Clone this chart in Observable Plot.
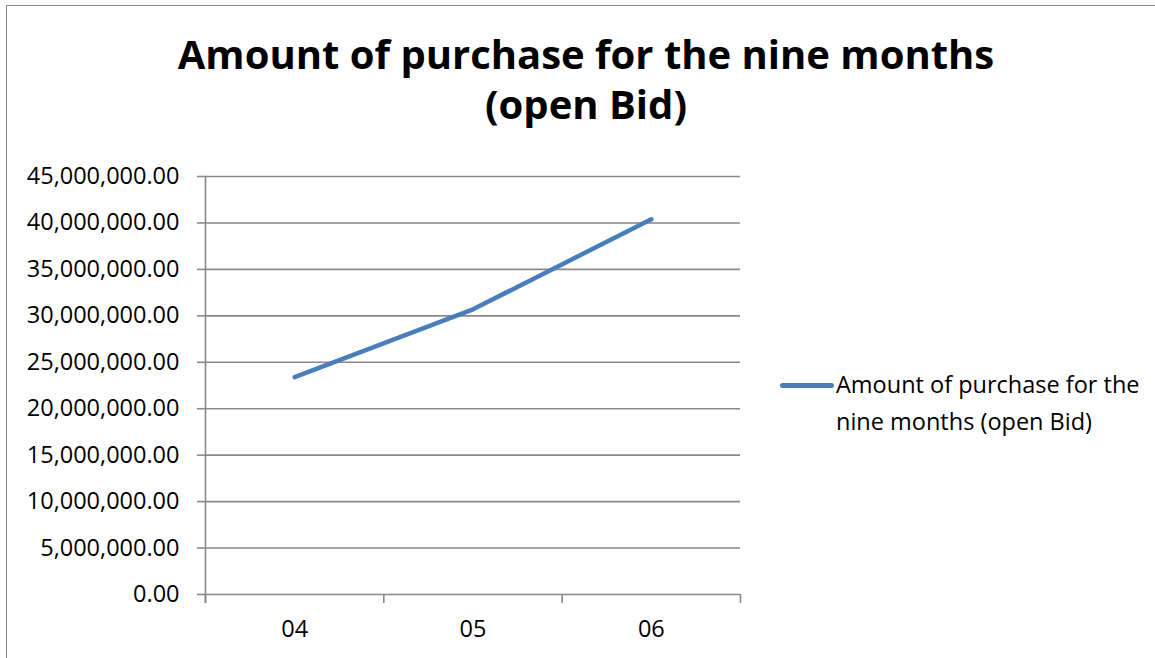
<!DOCTYPE html>
<html>
<head>
<meta charset="utf-8">
<script src="https://cdn.jsdelivr.net/npm/d3@7"></script>
<script src="https://cdn.jsdelivr.net/npm/@observablehq/plot@0.6"></script>
<style>
  html, body { margin: 0; padding: 0; background: #fff; }
  body { width: 1155px; height: 658px; position: relative; overflow: hidden; font-family: "Open Sans", sans-serif; color: #000; }
  #frame { position: absolute; left: 6px; top: 5px; width: 1200px; height: 700px; border: 1.5px solid #8a8a8a; box-sizing: border-box; }
  #title { position: absolute; left: 0; top: 29px; width: 1172px; text-align: center; font-weight: 700; font-size: 40px; line-height: 50px; }
  #chart { position: absolute; left: 0; top: 150px; }
  #legend { position: absolute; left: 780px; top: 366px; font-size: 23.5px; line-height: 37px; }
  #legend .swatch { position: absolute; left: 0; top: 17px; width: 54px; height: 4.5px; border-radius: 3px; background: #4a7ebb; }
  #legend .label { position: absolute; left: 56px; top: 0; white-space: nowrap; }
</style>
</head>
<body>
<div id="frame"></div>
<div id="title">Amount of purchase for the nine months<br>(open Bid)</div>
<div id="chart"></div>
<div id="legend"><div class="swatch"></div><div class="label">Amount of purchase for the<br>nine months (open Bid)</div></div>
<script>
// Monthly purchase amounts (open bid)
const months = ["04", "05", "06"];
const amounts = [23400000, 30700000, 40400000];
const seriesName = "Amount of purchase for the nine months (open Bid)";
const yTicks = [0, 5e6, 10e6, 15e6, 20e6, 25e6, 30e6, 35e6, 40e6, 45e6];

const data = months.map((m, i) => ({month: m, pos: i + 0.5, amount: amounts[i]}));
const boundaries = d3.range(months.length + 1);
const grid = "#898989";

const chart = Plot.plot({
  width: 760,
  height: 508,
  marginLeft: 205,
  marginRight: 20,
  marginTop: 26,
  marginBottom: 64,
  style: {fontFamily: "Open Sans, sans-serif", fontSize: "23.5px", color: "#000", background: "transparent", overflow: "visible"},
  x: {type: "linear", domain: [0, months.length], axis: null, label: null},
  y: {type: "linear", domain: [0, 45e6], axis: null, label: null},
  marks: [
    // horizontal gridlines
    Plot.ruleY(yTicks, {stroke: grid, strokeWidth: 1.6}),
    // vertical axis line, running just past the baseline
    Plot.ruleX([0], {stroke: grid, strokeWidth: 1.6, insetBottom: -9}),
    // category boundary ticks below the baseline
    Plot.axisX({ticks: boundaries, tickSize: 9, tickFormat: () => "", stroke: grid, strokeWidth: 1.6, label: null}),
    // category labels centred in each band
    Plot.axisX({ticks: data.map(d => d.pos), tickSize: 0, tickPadding: 26, tickFormat: d => months[Math.floor(d)], fontSize: 23.5, fill: "#000", label: null}),
    // value axis
    Plot.axisY({ticks: yTicks, tickSize: 8, tickPadding: 18, tickFormat: d3.format(",.2f"), stroke: grid, strokeWidth: 1.6, fontSize: 23.5, fill: "#000", label: null}),
    Plot.line(data, {x: "pos", y: "amount", stroke: "#4a7ebb", strokeWidth: 4.5, strokeLinecap: "round", strokeLinejoin: "round"})
  ]
});
chart.setAttribute("aria-label", seriesName);
document.getElementById("chart").append(chart);
</script>
</body>
</html>
